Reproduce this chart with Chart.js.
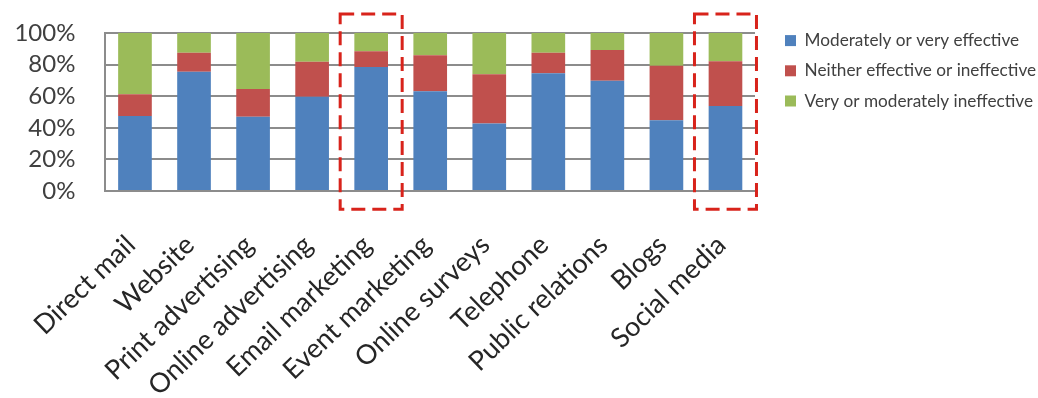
<!DOCTYPE html>
<html>
<head>
<meta charset="utf-8">
<script src="https://cdn.jsdelivr.net/npm/chart.js@4.4.1/dist/chart.umd.min.js"></script>
<style>
  html, body { margin: 0; padding: 0; background: #fff; }
  #wrap { width: 1038px; height: 398px; position: relative; }
</style>
</head>
<body>
<div id="wrap"><canvas id="effectChart"></canvas></div>
<script>
// ==========================================
// MARKETING CHANNEL EFFECTIVENESS (stacked %)
// ==========================================

const channels = [
  'Direct mail', 'Website', 'Print advertising', 'Online advertising',
  'Email marketing', 'Event marketing', 'Online surveys', 'Telephone',
  'Public relations', 'Blogs', 'Social media',
];

// share of respondents, in %
const effective = [47.5, 75.5, 47, 59.7, 78.5, 63.1, 42.8, 74.5, 69.8, 44.7, 53.8];
const neither = [13.7, 12, 17.5, 22.1, 9.9, 22.8, 31.1, 13, 19.4, 34.6, 28.3];
const ineffective = [38.8, 12.5, 35.5, 18.2, 11.6, 14.1, 26.1, 12.5, 10.8, 20.7, 17.9];

const yTicks = [0, 20, 40, 60, 80, 100];

// channels boxed with the red dashed outline
const highlighted = ['Email marketing', 'Social media'];

const FONT = 'Lato, "Liberation Sans", sans-serif';
const LEGEND_WIDTH = 283; // legend column, from plot edge to canvas edge
const LEGEND_GAP = 17; // extra space between plot and legend items
const LEGEND_DROP = 8; // legend sits a bit lower than the top padding

// red dashed boxes around the highlighted channels
const highlightBoxes = {
  id: 'highlightBoxes',
  afterDraw(chart) {
    const { ctx, scales } = chart;
    const x = scales.x;
    const y = scales.y;
    const step = x.width / channels.length;
    const top = y.getPixelForValue(112);
    const bottom = y.getPixelForValue(-11.5);
    ctx.save();
    ctx.strokeStyle = '#d8231b';
    ctx.lineWidth = 3;
    ctx.setLineDash([14, 7]);
    highlighted.forEach(function (name) {
      const cx = x.getPixelForValue(channels.indexOf(name));
      const half = step * 0.525;
      ctx.strokeRect(cx - half, top, half * 2, bottom - top);
    });
    ctx.restore();
  },
};

// fixed legend width, items nudged right / down inside it
const legendShift = {
  id: 'legendShift',
  afterInit(chart) {
    const legend = chart.legend;
    const fit = legend.fit;
    legend.fit = function () {
      fit.call(this);
      this.width = LEGEND_WIDTH;
    };
  },
  afterLayout(chart) {
    chart.legend.left += LEGEND_GAP;
    chart.legend.top += LEGEND_DROP;
  },
};

const effectData = {
  labels: channels,
  datasets: [
    {
      label: 'Moderately or very effective',
      data: effective,
      backgroundColor: '#4f81bd',
    },
    {
      label: 'Neither effective or ineffective',
      data: neither,
      backgroundColor: '#c0504d',
    },
    {
      label: 'Very or moderately ineffective',
      data: ineffective,
      backgroundColor: '#9bbb59',
    },
  ],
};

const effectConfig = {
  type: 'bar',
  data: effectData,
  plugins: [highlightBoxes, legendShift],
  options: {
    responsive: true,
    maintainAspectRatio: false,
    animation: false,
    categoryPercentage: 1,
    barPercentage: 0.57,
    layout: {
      padding: { top: 11, left: 0, right: 0, bottom: 0 },
    },
    plugins: {
      title: { display: false },
      tooltip: { enabled: false },
      legend: {
        display: true,
        position: 'right',
        align: 'start',
        maxWidth: LEGEND_WIDTH,
        labels: {
          boxWidth: 11,
          boxHeight: 11,
          padding: 13,
          color: '#404040',
          font: { family: FONT, size: 17.2 },
        },
      },
    },
    scales: {
      x: {
        stacked: true,
        afterFit: function (scale) {
          scale.height = 207;
        },
        grid: { display: false, drawTicks: false },
        border: { display: true, color: '#8c8c8c', width: 2 },
        ticks: {
          autoSkip: false,
          minRotation: 44,
          maxRotation: 44,
          padding: 38,
          labelOffset: -4,
          color: '#262626',
          font: { family: FONT, size: 27 },
        },
      },
      y: {
        stacked: true,
        min: 0,
        max: 100,
        afterFit: function (scale) {
          scale.width = 104;
          scale.paddingTop = 33;
        },
        afterBuildTicks: function (scale) {
          scale.ticks = yTicks.map(function (v) {
            return { value: v };
          });
        },
        grid: { color: '#8c8c8c', lineWidth: 2, drawTicks: false },
        border: { display: true, color: '#8c8c8c', width: 2 },
        ticks: {
          autoSkip: false,
          padding: 30,
          color: '#404040',
          font: { family: FONT, size: 24 },
          callback: function (value) {
            return value + '%';
          },
        },
      },
    },
  },
};

const effectChart = new Chart(
  document.getElementById('effectChart'),
  effectConfig
);
</script>
</body>
</html>
